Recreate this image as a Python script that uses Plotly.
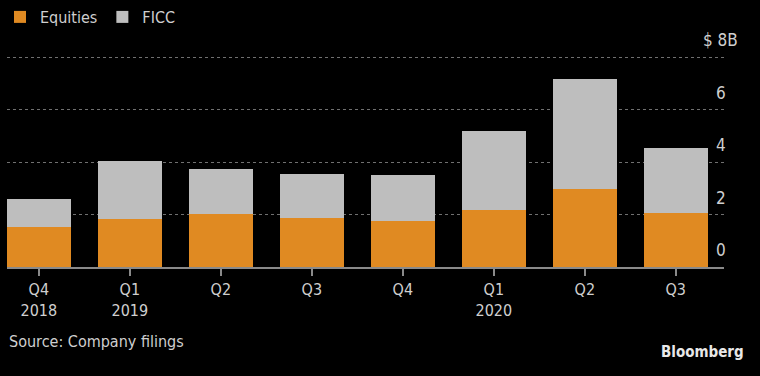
import plotly.graph_objects as go

quarters = ["Q4<br>2018", "Q1<br>2019", "Q2", "Q3", "Q4", "Q1<br>2020", "Q2", "Q3"]
equities = [1.51, 1.84, 2.01, 1.87, 1.76, 2.18, 2.97, 2.05]
totals = [2.60, 4.05, 3.74, 3.55, 3.51, 5.19, 7.18, 4.54]
ficc = [round(t - e, 2) for t, e in zip(totals, equities)]
ytick_vals = [0, 2, 4, 6, 8]
ytick_text = ["0", "2", "4", "6", "$ 8B"]

x = list(range(len(quarters)))
FONT = "Liberation Sans Narrow, DejaVu Sans Condensed, Arial Narrow, sans-serif"
TXT = "#cfcfcf"

fig = go.Figure()
fig.add_trace(go.Bar(x=x, y=equities, name="Equities", marker=dict(color="#E08A22", line=dict(width=0)), width=0.7))
fig.add_trace(go.Bar(x=x, y=ficc, name="FICC", marker=dict(color="#BEBEBE", line=dict(width=0)), width=0.7))

fig.update_layout(
    barmode="stack",
    width=760, height=376,
    paper_bgcolor="black", plot_bgcolor="black",
    margin=dict(l=7, r=36, t=40, b=109),
    font=dict(family=FONT, color=TXT, size=15),
    legend=dict(orientation="h", xref="container", yref="container", x=-0.005, y=1.0,
                xanchor="left", yanchor="top", font=dict(size=16, color=TXT),
                traceorder="normal", itemwidth=30, bgcolor="rgba(0,0,0,0)"),
    showlegend=True,
    xaxis=dict(range=[-0.35, 7.53], tickvals=x, ticktext=quarters, showgrid=False,
               showline=True, linecolor="#8a8a8a", linewidth=2, ticks="outside",
               ticklen=7, tickwidth=2, tickcolor="#8a8a8a", zeroline=False,
               tickfont=dict(size=16, color=TXT)),
    yaxis=dict(range=[0, 8.66], tickvals=ytick_vals, showticklabels=False, showgrid=True,
               gridcolor="#707070", griddash="dot", gridwidth=1, zeroline=False, side="right"),
)

for v, t in zip(ytick_vals, ytick_text):
    fig.add_annotation(x=0.9958, y=v, xref="paper", yref="y", text=t, showarrow=False,
                       xanchor="center", yanchor="middle", yshift=17,
                       font=dict(size=17, color=TXT, family=FONT))
fig.add_annotation(xref="paper", yref="paper", x=0.0, y=-0.33, text="Source: Company filings",
                   showarrow=False, xanchor="left", yanchor="middle",
                   font=dict(size=16, color=TXT, family=FONT))
fig.add_annotation(xref="paper", yref="paper", x=1.031, y=-0.375, text="<b>Bloomberg</b>",
                   showarrow=False, xanchor="right", yanchor="middle",
                   font=dict(size=15, color="#e8e8e8", family=FONT))

fig.write_html("out.html", config={"displayModeBar": False},
               post_script="document.body.style.margin='0';document.body.style.background='black';document.body.style.overflow='hidden';")
